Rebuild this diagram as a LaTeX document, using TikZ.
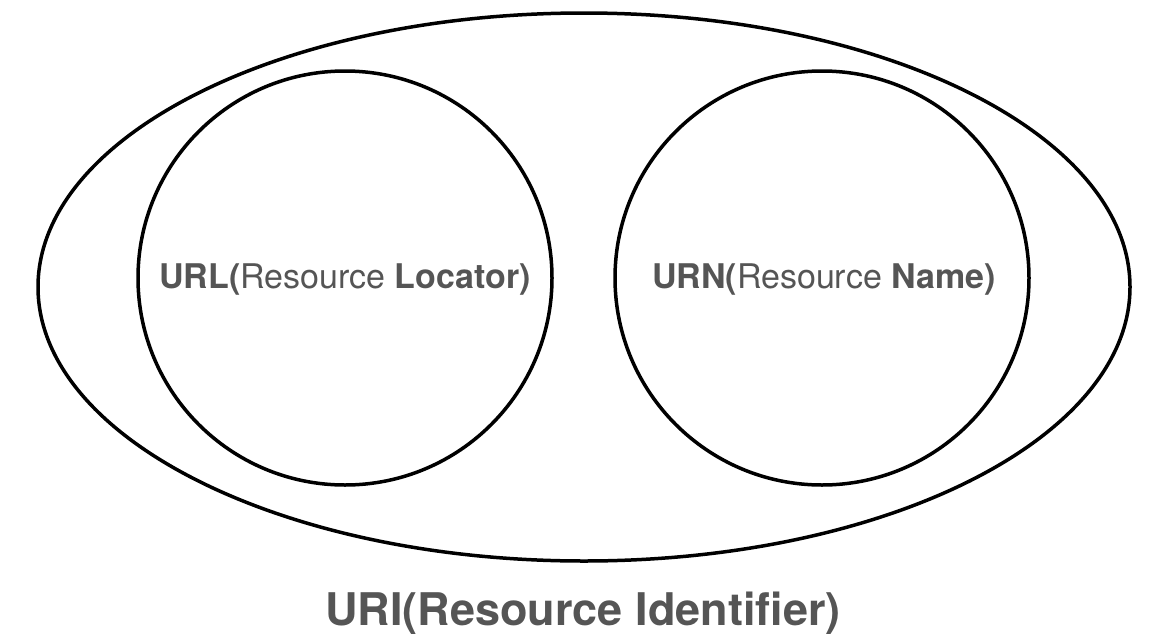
\documentclass[tikz,border=0pt]{standalone}
\usepackage{fontspec}
\setmainfont{TeX Gyre Heros}
\usepackage{xcolor}
\usepackage{tikz}
\usetikzlibrary{shapes.geometric,positioning}
\definecolor{lbl}{HTML}{555555}
\newcommand{\Bd}[1]{\textbf{#1}}

\begin{document}
\begin{tikzpicture}[x=1pt,y=-1pt,
    ring/.style={draw=black, line width=3.5pt, inner sep=0pt},
    small/.style={font=\fontsize{34}{40}\selectfont, text=lbl, anchor=base},
    big/.style={font=\fontsize{45}{52}\selectfont\bfseries, text=lbl, anchor=base}]
  \useasboundingbox (0,0) rectangle (1154,640);
  % outer set and the two inner sets
  \node[ring, ellipse, minimum width=1092pt, minimum height=548pt] (uri) at (584,287) {};
  \node[ring, circle, minimum size=414pt] (url) at (345,278) {};
  \node[ring, circle, minimum size=414pt] (urn) at (822,278) {};
  % labels
  \node[small] (urltxt) at (345,288) {\Bd{URL(}Resource \Bd{Locator)}};
  \node[small] (urntxt) at (824,288) {\Bd{URN(}Resource \Bd{Name)}};
  \node[big] (uritxt) at (583,625) {URI(Resource Identifier)};
\end{tikzpicture}
\end{document}
